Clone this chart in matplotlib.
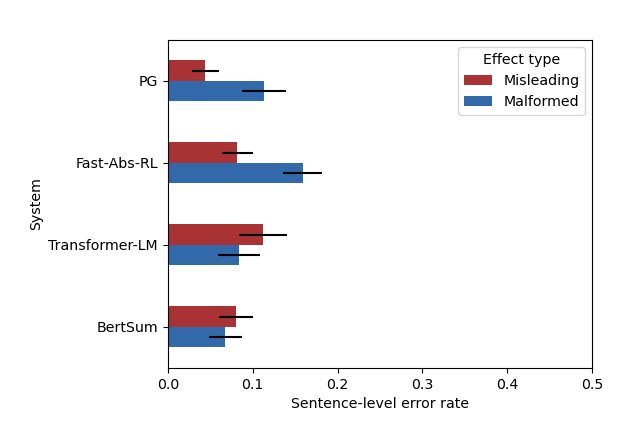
import matplotlib
matplotlib.use("Agg")
import matplotlib.pyplot as plt
import numpy as np

SYSTEMS = ["BertSum", "Transformer-LM", "Fast-Abs-RL", "PG"]
MISLEADING = [0.080, 0.112, 0.082, 0.044]
MISLEADING_ERR = [0.020, 0.028, 0.018, 0.016]
MALFORMED = [0.068, 0.084, 0.159, 0.113]
MALFORMED_ERR = [0.019, 0.025, 0.023, 0.026]

RED = "#a83234"
BLUE = "#3169ab"


def main():
    plt.rcParams["font.size"] = 10.2
    fig, ax = plt.subplots(figsize=(6.26, 4.21), dpi=100)
    fig.subplots_adjust(left=0.268, right=0.946, top=0.905, bottom=0.126)

    y = np.arange(len(SYSTEMS))
    h = 0.25
    ax.barh(y + h / 2, MISLEADING, height=h, color=RED, label="Misleading",
            xerr=MISLEADING_ERR, error_kw=dict(ecolor="black", elinewidth=1.5, capsize=0))
    ax.barh(y - h / 2, MALFORMED, height=h, color=BLUE, label="Malformed",
            xerr=MALFORMED_ERR, error_kw=dict(ecolor="black", elinewidth=1.5, capsize=0))

    ax.set_yticks(y)
    ax.set_yticklabels(SYSTEMS)
    ax.set_ylim(-0.5, 3.5)
    ax.set_xlim(0, 0.5)
    ax.set_xticks(np.arange(0, 0.51, 0.1))
    ax.set_xlabel("Sentence-level error rate")
    ax.set_ylabel("System")
    ax.legend(title="Effect type", loc="upper right")

    fig.savefig("out.png", dpi=100)


if __name__ == "__main__":
    main()
